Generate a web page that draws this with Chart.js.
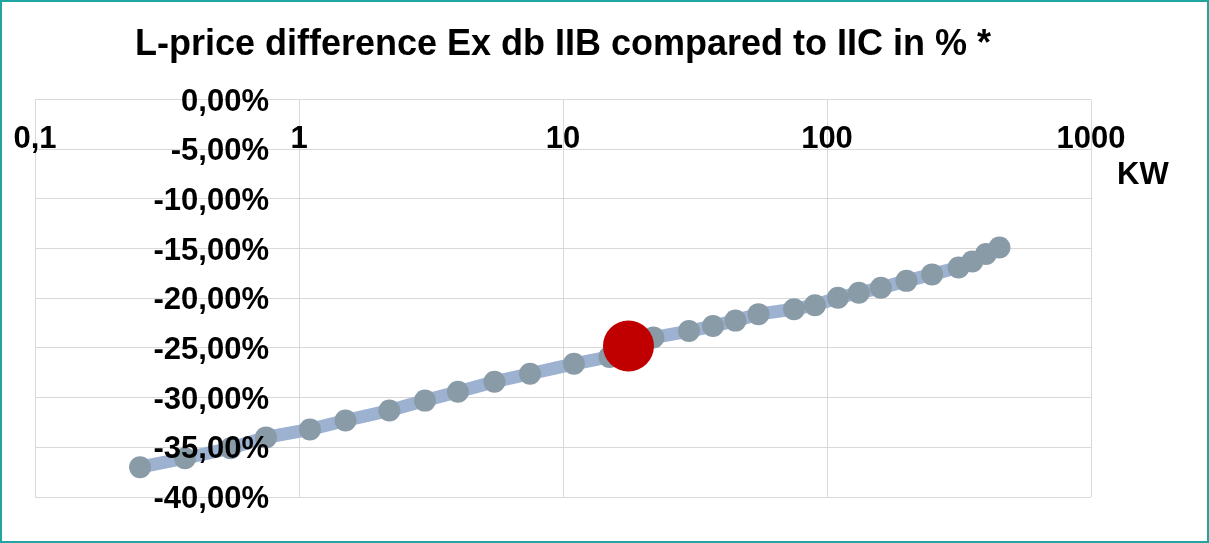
<!DOCTYPE html>
<html>
<head>
<meta charset="utf-8">
<title>L-price difference Ex db IIB compared to IIC</title>
<script src="https://cdn.jsdelivr.net/npm/chart.js@4/dist/chart.umd.min.js"></script>
<style>
    html, body { margin: 0; padding: 0; background: #ffffff; }
    #wrap { width: 1209px; height: 543px; }
</style>
</head>
<body>
<div id="wrap"><canvas id="priceChart" width="1209" height="543"></canvas></div>
<script>
// Motor power (kW) and price difference (%)
const powerKw = [0.25, 0.37, 0.55, 0.75, 1.1, 1.5, 2.2, 3, 4, 5.5, 7.5, 11, 15, 18.5, 22, 30, 37, 45, 55, 75, 90, 110, 132, 160, 200, 250, 315, 355, 400, 450];
const priceDiff = [-37.0, -36.1, -35.1, -34.0, -33.2, -32.3, -31.3, -30.3, -29.4, -28.4, -27.6, -26.6, -25.9, -24.7, -23.95, -23.3, -22.8, -22.25, -21.6, -21.1, -20.7, -19.95, -19.45, -18.95, -18.25, -17.6, -16.9, -16.3, -15.55, -14.9];

// highlighted point
const markKw = [17.7];
const markDiff = [-24.8];

// axis ticks
const xTicks = [0.1, 1, 10, 100, 1000];
const xTickLabels = ['0,1', '1', '10', '100', '1000'];
const yTicks = [0, -5, -10, -15, -20, -25, -30, -35, -40];
const yTickLabels = ['0,00%', '-5,00%', '-10,00%', '-15,00%', '-20,00%', '-25,00%', '-30,00%', '-35,00%', '-40,00%'];

const FONT = '"Liberation Sans", Arial, sans-serif';

/**
 * Tick labels are drawn after the datasets, like in the original (text over the line)
 */
const axisLabels = {
    id: 'axisLabels',
    beforeDraw(chart) {
        const ctx = chart.ctx;
        ctx.save();
        ctx.fillStyle = '#ffffff';
        ctx.fillRect(0, 0, chart.width, chart.height);
        ctx.strokeStyle = '#1fa6a1';
        ctx.lineWidth = 2;
        ctx.strokeRect(1, 1, chart.width - 2, chart.height - 2);
        ctx.restore();
    },
    afterDatasetsDraw(chart) {
        const ctx = chart.ctx;
        const xs = chart.scales.x;
        const ys = chart.scales.y;
        ctx.save();
        ctx.fillStyle = '#000000';
        ctx.font = 'bold 31px ' + FONT;
        ctx.textBaseline = 'alphabetic';

        // y labels sit left of the x = 1 crossing
        ctx.textAlign = 'right';
        const yAxisX = xs.getPixelForValue(1);
        yTicks.forEach((v, i) => {
            ctx.fillText(yTickLabels[i], yAxisX - 30, ys.getPixelForValue(v) + 11);
        });

        // x labels hang under the 0 line
        ctx.textAlign = 'center';
        const xAxisY = ys.getPixelForValue(0);
        xTicks.forEach((v, i) => {
            ctx.fillText(xTickLabels[i], xs.getPixelForValue(v), xAxisY + 48.5);
        });

        ctx.textAlign = 'left';
        ctx.fillText('KW', xs.right + 26, xAxisY + 84);
        ctx.restore();
    }
};

new Chart(document.getElementById('priceChart').getContext('2d'), {
    type: 'line',
    data: {
        datasets: [
            {
                label: 'Highlight',
                data: markKw.map((x, i) => ({ x: x, y: markDiff[i] })),
                showLine: false,
                pointRadius: 25.5,
                pointHoverRadius: 25.5,
                pointBackgroundColor: '#c00000',
                pointBorderWidth: 0,
                order: 0
            },
            {
                label: 'IIB vs IIC',
                data: powerKw.map((x, i) => ({ x: x, y: priceDiff[i] })),
                borderColor: '#9db1d1',
                borderWidth: 13,
                tension: 0,
                pointRadius: 11,
                pointHoverRadius: 11,
                pointBackgroundColor: '#8a9ba8',
                pointBorderWidth: 0,
                order: 1
            }
        ]
    },
    options: {
        responsive: false,
        animation: false,
        devicePixelRatio: 1,
        layout: {
            padding: { left: 35, right: 118, top: 0, bottom: 46 }
        },
        plugins: {
            legend: { display: false },
            tooltip: { enabled: false },
            title: {
                display: true,
                text: 'L-price difference Ex db IIB compared to IIC in % *',
                color: '#000000',
                font: { family: FONT, size: 36, weight: 'bold' },
                padding: { top: 23, bottom: 33.3 }
            }
        },
        scales: {
            x: {
                type: 'logarithmic',
                min: 0.1,
                max: 1000,
                afterBuildTicks: (scale) => {
                    scale.ticks = xTicks.map(v => ({ value: v }));
                },
                ticks: { display: false },
                grid: { color: '#d9d9d9', lineWidth: 1, drawTicks: false },
                border: { display: false }
            },
            y: {
                type: 'linear',
                min: -40,
                max: 0,
                afterBuildTicks: (scale) => {
                    scale.ticks = yTicks.map(v => ({ value: v }));
                },
                ticks: { display: false },
                grid: { color: '#d9d9d9', lineWidth: 1, drawTicks: false },
                border: { display: false }
            }
        }
    },
    plugins: [axisLabels]
});
</script>
</body>
</html>
